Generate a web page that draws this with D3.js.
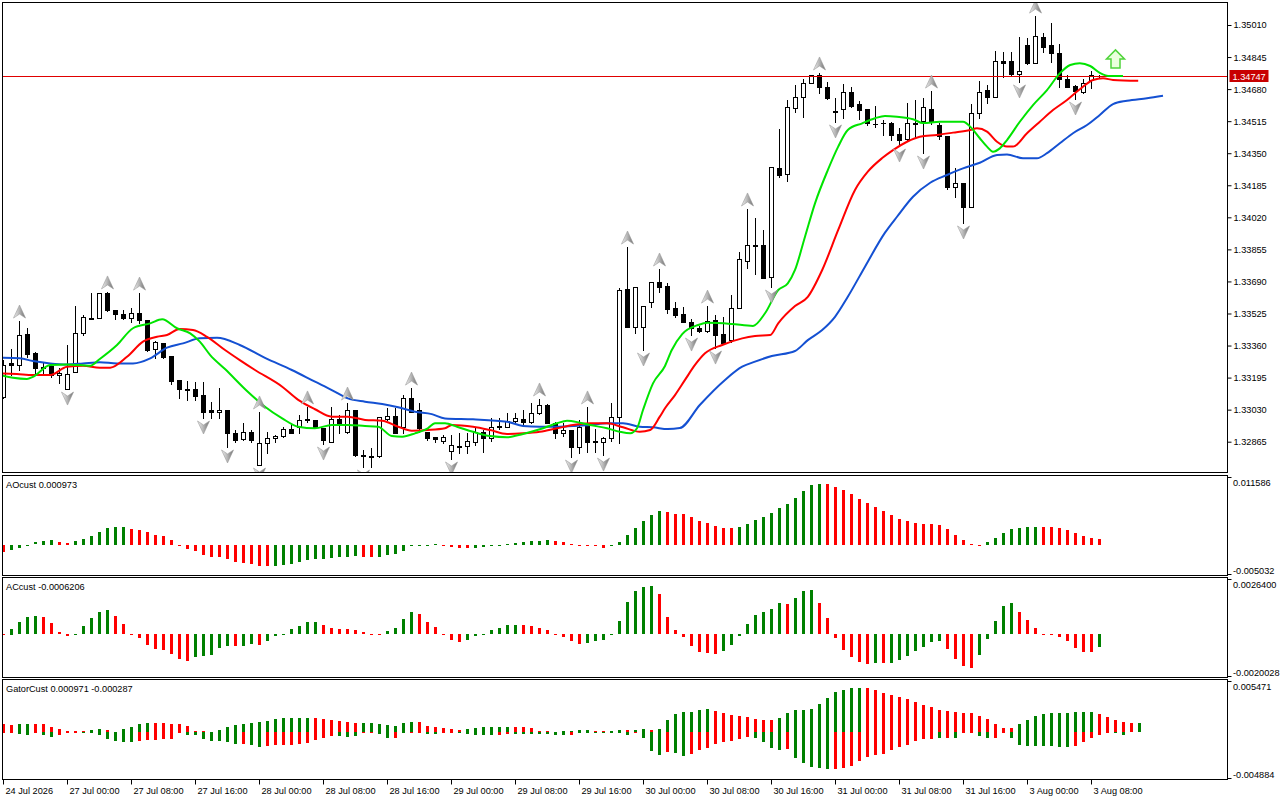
<!DOCTYPE html>
<html>
<head>
<meta charset="utf-8">
<script src="https://cdn.jsdelivr.net/npm/d3@7"></script>
<style>
  body { margin: 0; background: #fff; }
  svg { display: block; }
</style>
</head>
<body>
<div id="chart"></div>
<script>
// H1 bars, 24 Jul 16:00 .. 3 Aug 09:00
const opens = [1.33095,1.33270,1.33260,1.33419,1.33321,1.33249,1.33255,1.33208,1.33136,1.33224,
  1.33424,1.33502,1.33502,1.33630,1.33543,1.33522,1.33502,1.33527,1.33491,1.33342,
  1.33373,1.33306,1.33183,1.33136,1.33136,1.33105,1.33028,1.33018,1.33028,1.32910,
  1.32879,1.32915,1.32745,1.32858,1.32884,1.32894,1.32930,1.32941,1.32982,1.32977,
  1.32935,1.32863,1.32982,1.32915,1.33028,1.32796,1.32791,1.32791,1.32982,1.32997,
  1.32941,1.33090,1.33028,1.32915,1.32889,1.32868,1.32817,1.32843,1.32843,1.32863,
  1.32915,1.32884,1.32946,1.32941,1.32971,1.32982,1.32966,1.33013,1.33054,1.32961,
  1.32910,1.32925,1.32838,1.32946,1.32868,1.32863,1.32884,1.32992,1.33651,1.33455,
  1.33455,1.33584,1.33687,1.33666,1.33553,1.33522,1.33481,1.33450,1.33435,1.33491,
  1.33419,1.33388,1.33553,1.33795,1.33877,1.33877,1.33713,1.34274,1.34243,1.34583,
  1.34639,1.34711,1.34753,1.34691,1.34567,1.34578,1.34665,1.34603,1.34578,1.34500,
  1.34505,1.34505,1.34449,1.34423,1.34500,1.34516,1.34578,1.34495,1.34439,1.34176,
  1.34197,1.34073,1.34557,1.34675,1.34639,1.34825,1.34825,1.34758,1.34907,1.34814,
  1.34948,1.34907,1.34866,1.34732,1.34696,1.34665,1.34727,1.34750];
const highs = [1.33285,1.33342,1.33486,1.33450,1.33327,1.33270,1.33260,1.33244,1.33363,1.33563,
  1.33517,1.33630,1.33630,1.33636,1.33543,1.33543,1.33553,1.33630,1.33491,1.33383,
  1.33373,1.33306,1.33183,1.33177,1.33172,1.33172,1.33069,1.33141,1.33028,1.32925,
  1.32961,1.32925,1.33018,1.32915,1.32899,1.32941,1.32961,1.33002,1.33044,1.32977,
  1.32935,1.33044,1.33002,1.33064,1.33028,1.32822,1.32832,1.32992,1.33038,1.33038,
  1.33105,1.33141,1.33064,1.32915,1.32889,1.32899,1.32899,1.32910,1.32910,1.32941,
  1.32925,1.32987,1.32987,1.33013,1.33013,1.33028,1.33064,1.33085,1.33059,1.32966,
  1.32961,1.32925,1.32977,1.33044,1.32930,1.32889,1.33064,1.33656,1.33867,1.33661,
  1.33563,1.33687,1.33754,1.33682,1.33584,1.33558,1.33497,1.33461,1.33563,1.33517,
  1.33507,1.33620,1.33841,1.34063,1.34016,1.33955,1.34279,1.34475,1.34624,1.34701,
  1.34732,1.34753,1.34763,1.34717,1.34634,1.34706,1.34691,1.34619,1.34578,1.34593,
  1.34521,1.34511,1.34480,1.34609,1.34624,1.34634,1.34670,1.34505,1.34439,1.34274,
  1.34197,1.34603,1.34722,1.34701,1.34876,1.34871,1.34871,1.34948,1.34943,1.35056,
  1.34969,1.35020,1.34912,1.34753,1.34701,1.34732,1.34773,1.34753];
const lows = [1.33090,1.33208,1.33234,1.33301,1.33208,1.33208,1.33198,1.33167,1.33136,1.33224,
  1.33414,1.33497,1.33502,1.33538,1.33497,1.33497,1.33481,1.33476,1.33332,1.33296,
  1.33296,1.33162,1.33090,1.33080,1.33080,1.32987,1.32987,1.32987,1.32838,1.32863,
  1.32874,1.32863,1.32745,1.32807,1.32863,1.32889,1.32910,1.32910,1.32966,1.32941,
  1.32853,1.32863,1.32910,1.32910,1.32791,1.32735,1.32735,1.32786,1.32977,1.32910,
  1.32910,1.33018,1.32915,1.32874,1.32863,1.32858,1.32776,1.32807,1.32807,1.32848,
  1.32812,1.32868,1.32930,1.32941,1.32961,1.32951,1.32961,1.33007,1.32961,1.32884,
  1.32894,1.32786,1.32807,1.32812,1.32812,1.32796,1.32868,1.32858,1.33455,1.33424,
  1.33337,1.33558,1.33636,1.33527,1.33507,1.33481,1.33414,1.33430,1.33430,1.33347,
  1.33373,1.33378,1.33553,1.33759,1.33728,1.33708,1.33661,1.34228,1.34207,1.34562,
  1.34536,1.34711,1.34660,1.34629,1.34511,1.34531,1.34588,1.34526,1.34495,1.34485,
  1.34444,1.34418,1.34387,1.34418,1.34433,1.34351,1.34500,1.34423,1.34166,1.34125,
  1.33991,1.34073,1.34531,1.34609,1.34639,1.34742,1.34753,1.34717,1.34809,1.34814,
  1.34871,1.34820,1.34691,1.34691,1.34629,1.34660,1.34686,1.34742];
const closes = [1.33260,1.33260,1.33414,1.33316,1.33244,1.33244,1.33208,1.33219,1.33213,1.33424,
  1.33507,1.33497,1.33630,1.33543,1.33522,1.33502,1.33527,1.33491,1.33337,1.33378,
  1.33301,1.33177,1.33136,1.33131,1.33100,1.33018,1.33018,1.33028,1.32910,1.32874,
  1.32915,1.32874,1.32858,1.32884,1.32894,1.32930,1.32910,1.32977,1.32977,1.32941,
  1.32874,1.32982,1.32951,1.33028,1.32796,1.32791,1.32786,1.32992,1.32997,1.32910,
  1.33090,1.33018,1.32935,1.32884,1.32879,1.32889,1.32848,1.32838,1.32868,1.32915,
  1.32884,1.32941,1.32941,1.32971,1.32987,1.32966,1.33013,1.33054,1.32961,1.32910,
  1.32925,1.32838,1.32941,1.32863,1.32863,1.32884,1.32992,1.33646,1.33455,1.33661,
  1.33563,1.33687,1.33661,1.33548,1.33517,1.33481,1.33450,1.33435,1.33486,1.33414,
  1.33373,1.33553,1.33805,1.33877,1.33872,1.33708,1.34279,1.34238,1.34588,1.34639,
  1.34711,1.34753,1.34691,1.34634,1.34562,1.34665,1.34593,1.34572,1.34505,1.34498,
  1.34503,1.34444,1.34418,1.34505,1.34507,1.34588,1.34511,1.34439,1.34176,1.34197,
  1.34073,1.34557,1.34665,1.34639,1.34825,1.34814,1.34758,1.34773,1.34814,1.34953,
  1.34897,1.34866,1.34732,1.34691,1.34670,1.34711,1.34753,1.34747];

// alligator lines, [bar, price] (jaw/teeth/lips are drawn shifted forward)
const jawPts = [[-0.4,1.33297],[2.1,1.33294],[3.75,1.33280],[5.9,1.33268],[8,1.33263],[10,1.33268],[12.1,1.33274],
  [14.25,1.33268],[16.25,1.33268],[18.4,1.33294],[20.5,1.33349],[22.5,1.33371],[24.6,1.33397],[26.75,1.33400],
  [29.6,1.33363],[32.75,1.33296],[36.1,1.33234],[39,1.33174],[41.1,1.33131],[43.1,1.33088],[45.25,1.33071],
  [47.4,1.33059],[49.4,1.33042],[51.5,1.33019],[53.6,1.33007],[55.25,1.32985],[58.75,1.32980],[63,1.32968],
  [65,1.32946],[67.1,1.32942],[69.25,1.32942],[71.25,1.32946],[73.4,1.32951],[75.5,1.32960],[77.5,1.32960],
  [79.6,1.32942],[81.25,1.32939],[83.1,1.32930],[84.6,1.32935],[87.1,1.33054],[90.25,1.33183],[92.4,1.33251],
  [94,1.33277],[96.1,1.33306],[99,1.33332],[100.6,1.33388],[102.4,1.33440],[104,1.33508],[105.6,1.33611],
  [107.75,1.33766],[110.25,1.33941],[111.75,1.34023],[113.75,1.34126],[115.9,1.34198],[118,1.34238],
  [120,1.34272],[122.1,1.34301],[124.25,1.34341],[125.5,1.34344],[127.5,1.34324],[129.25,1.34324],
  [130.5,1.34350],[132.1,1.34401],[133.75,1.34453],[135.5,1.34495],[137.1,1.34547],[138.75,1.34603],
  [140.5,1.34620],[143,1.34633],[145,1.34646]];
const teethPts = [[-0.4,1.33217],[1.75,1.33213],[3.75,1.33208],[5.9,1.33208],[8,1.33251],[10,1.33256],[12.1,1.33246],
  [13.4,1.33246],[15.5,1.33302],[17.5,1.33380],[19.25,1.33405],[20.5,1.33414],[22.1,1.33445],[23.75,1.33440],
  [25.5,1.33405],[27.75,1.33337],[29.6,1.33285],[31.5,1.33234],[34.9,1.33148],[36.9,1.33080],[39,1.33032],
  [41.1,1.32994],[43.1,1.32994],[45.25,1.32977],[47.4,1.32973],[49.4,1.32942],[51.1,1.32922],[53.1,1.32925],
  [55.25,1.32934],[56.1,1.32951],[58.75,1.32942],[60.9,1.32925],[63,1.32905],[65,1.32908],[67.1,1.32916],
  [69.25,1.32934],[71.25,1.32951],[73.4,1.32960],[75.5,1.32960],[77.5,1.32939],[79.6,1.32916],[80.9,1.32925],
  [82.1,1.32994],[82.75,1.33037],[84,1.33105],[85.25,1.33183],[86.5,1.33260],[87.75,1.33320],[89.9,1.33363],
  [92.4,1.33397],[94,1.33409],[95.9,1.33414],[96.9,1.33474],[99,1.33563],[100.6,1.33611],[102.4,1.33749],
  [104.4,1.33955],[106.5,1.34161],[108.1,1.34255],[109.9,1.34325],[111.25,1.34366],[113,1.34409],
  [114.6,1.34435],[116.75,1.34444],[118.75,1.34456],[120.9,1.34470],[121.75,1.34478],[123,1.34461],
  [124.25,1.34409],[125.5,1.34384],[126.25,1.34384],[128,1.34453],[129.6,1.34512],[131.25,1.34572],
  [133,1.34624],[134.6,1.34679],[136.25,1.34727],[137.5,1.34736],[138.75,1.34727],[141.9,1.34723]];
const lipsPts = [[-0.4,1.33208],[1.25,1.33194],[3,1.33188],[3.75,1.33199],[5.9,1.33260],[8,1.33263],[10.9,1.33256],
  [12.1,1.33291],[14.25,1.33363],[16.25,1.33449],[18.4,1.33474],[19.9,1.33495],[21.75,1.33449],[23.4,1.33423],
  [24.6,1.33380],[25.9,1.33311],[27.75,1.33239],[30.6,1.33122],[32.75,1.33045],[34.9,1.32985],[36.9,1.32942],
  [39,1.32934],[41.1,1.32951],[43.1,1.32951],[45.25,1.32946],[46.9,1.32942],[48.6,1.32894],[49.9,1.32891],
  [51.5,1.32908],[53.1,1.32934],[54,1.32960],[55.25,1.32960],[56.75,1.32942],[58.75,1.32916],[60.9,1.32894],
  [63,1.32888],[65,1.32905],[67.1,1.32929],[69.25,1.32960],[70.5,1.32973],[72.1,1.32963],[73.4,1.32951],
  [75.5,1.32934],[77.1,1.32916],[78.4,1.32908],[79.25,1.32934],[80,1.33028],[81.25,1.33165],[82.75,1.33255],
  [83.6,1.33337],[84.9,1.33419],[86.9,1.33466],[88.1,1.33477],[91.1,1.33471],[93.75,1.33461],[95.25,1.33526],
  [96.9,1.33646],[98.1,1.33680],[99,1.33749],[100.25,1.33920],[101.5,1.34092],[103.1,1.34263],[104.4,1.34384],
  [105.6,1.34470],[107.4,1.34504],[109,1.34530],[110.25,1.34542],[111.75,1.34538],[113.75,1.34525],
  [115,1.34505],[117.1,1.34512],[120,1.34512],[121.1,1.34478],[122.1,1.34427],[123,1.34384],[123.75,1.34358],
  [124.6,1.34375],[125.5,1.34418],[127.1,1.34512],[128.75,1.34598],[130.5,1.34675],[132.1,1.34761],
  [133.4,1.34804],[134.6,1.34813],[135.9,1.34799],[137.1,1.34764],[138.4,1.34747],[140,1.34747]];

const fractalUp = [2, 13, 17, 32, 38, 43, 51, 67, 73, 78, 82, 88, 93, 102, 116, 129];
const fractalDown = [8, 25, 28, 32, 40, 45, 56, 71, 75, 80, 86, 89, 96, 104, 112, 115, 120, 127, 134];
const signalBar = 139, signalPrice = 1.34789;
const lastPrice = 1.34747;

const aoValues = [-0.00124,-0.00090,-0.00045,-0.00010,0.00040,0.00068,0.00085,0.00045,0.00034,0.00062,
  0.00102,0.00158,0.00220,0.00288,0.00305,0.00306,0.00271,0.00254,0.00220,0.00170,
  0.00147,0.00085,-0.00005,-0.00068,-0.00102,-0.00170,-0.00198,-0.00209,-0.00237,-0.00288,
  -0.00300,-0.00317,-0.00350,-0.00351,-0.00349,-0.00345,-0.00317,-0.00294,-0.00254,-0.00243,
  -0.00237,-0.00215,-0.00198,-0.00197,-0.00181,-0.00198,-0.00199,-0.00197,-0.00175,-0.00158,
  -0.00102,-0.00025,-0.00008,-0.00002,0.00008,0.00002,-0.00034,-0.00045,-0.00046,-0.00044,
  -0.00034,-0.00010,-0.00005,0.00017,0.00034,0.00050,0.00062,0.00063,0.00079,0.00062,
  0.00045,0.00010,0.00005,0.00002,-0.00010,-0.00045,-0.00010,0.00045,0.00170,0.00288,
  0.00407,0.00509,0.00577,0.00560,0.00526,0.00525,0.00475,0.00407,0.00373,0.00322,
  0.00288,0.00287,0.00305,0.00356,0.00424,0.00475,0.00543,0.00627,0.00695,0.00797,
  0.00916,0.01017,0.01035,0.01033,0.00983,0.00933,0.00865,0.00780,0.00712,0.00644,
  0.00577,0.00509,0.00441,0.00407,0.00373,0.00356,0.00355,0.00339,0.00271,0.00170,
  0.00085,0.00011,-0.00010,0.00051,0.00119,0.00203,0.00271,0.00288,0.00305,0.00306,
  0.00304,0.00302,0.00288,0.00254,0.00203,0.00153,0.00119,0.000973];
const acValues = [0.00003,0.00027,0.00057,0.00081,0.00085,0.00080,0.00052,0.00010,-0.00010,0.00003,
  0.00038,0.00076,0.00104,0.00114,0.00085,0.00047,0.00002,-0.00019,-0.00052,-0.00071,
  -0.00076,-0.00095,-0.00118,-0.00128,-0.00109,-0.00104,-0.00099,-0.00066,-0.00057,-0.000575,
  -0.00056,-0.00047,-0.00052,-0.00033,-0.00010,0.00001,0.00024,0.00038,0.00057,0.00058,
  0.00043,0.00028,0.00024,0.000235,0.00019,0.00010,0.00002,0.00000,0.00014,0.00028,
  0.00071,0.00104,0.00095,0.00057,0.00033,0.00002,-0.00028,-0.00038,-0.00028,-0.00010,
  0.00001,0.00019,0.00028,0.00043,0.00044,0.00043,0.00038,0.00028,0.00019,0.00002,
  -0.00014,-0.00033,-0.00047,-0.00043,-0.00033,-0.00028,-0.00003,0.00062,0.00152,0.00204,
  0.00223,0.00227,0.00189,0.00081,0.00019,-0.00014,-0.00057,-0.00085,-0.00090,-0.00095,
  -0.00081,-0.00052,-0.00009,0.00047,0.00090,0.00104,0.00118,0.00147,0.00142,0.00171,
  0.00204,0.00208,0.00147,0.00076,-0.00019,-0.00076,-0.00109,-0.00133,-0.00142,-0.00137,
  -0.00138,-0.00137,-0.00123,-0.00104,-0.00081,-0.00062,-0.00038,-0.00033,-0.00071,-0.00118,
  -0.00152,-0.00161,-0.00099,-0.00024,0.00062,0.00133,0.00147,0.00104,0.00066,0.00028,
  0.00002,0.00001,-0.00014,-0.00033,-0.00066,-0.00085,-0.00086,-0.0006206];

const gatorUp = [0.00085,0.00077,0.00085,0.00085,0.00085,0.00085,0.00060,0.00032,0.00014,0.00014,
  0.00014,0.00021,0.00032,0.00025,0.00007,0.00032,0.00060,0.00085,0.00095,0.00095,
  0.00095,0.00088,0.00085,0.00070,0.00018,0.00018,0.00002,0.00025,0.00060,0.00077,
  0.00088,0.00102,0.00113,0.00123,0.00137,0.00155,0.00155,0.00155,0.00155,0.00155,
  0.00141,0.00130,0.00123,0.00113,0.00102,0.00095,0.00095,0.00088,0.00077,0.00070,
  0.00095,0.00106,0.00106,0.00070,0.00060,0.00042,0.00032,0.00025,0.00032,0.00042,
  0.00053,0.00053,0.00053,0.00060,0.00053,0.00053,0.00042,0.00018,0.00018,0.00007,
  0.00014,0.00014,0.00021,0.00021,0.00014,0.00014,0.00018,0.00021,0.00021,0.00021,
  0.00032,0.00021,0.00032,0.00127,0.00190,0.00211,0.00211,0.00232,0.00243,0.00222,
  0.00201,0.00180,0.00169,0.00158,0.00137,0.00127,0.00127,0.00148,0.00201,0.00232,
  0.00232,0.00243,0.00296,0.00359,0.00423,0.00444,0.00465,0.00465,0.00465,0.00444,
  0.00412,0.00391,0.00370,0.00349,0.00317,0.00285,0.00264,0.00232,0.00222,0.00211,
  0.00201,0.00201,0.00169,0.00137,0.00085,0.00042,0.00042,0.00085,0.00127,0.00169,
  0.00190,0.00201,0.00201,0.00201,0.00211,0.00211,0.00211,0.00190,0.00158,0.00127,
  0.00106,0.00095,0.000971];
const gatorDown = [-0.00011,-0.00011,-0.00021,-0.00028,-0.00011,-0.00028,-0.00053,-0.00028,-0.00007,-0.00004,
  -0.00004,-0.00011,-0.00028,-0.00074,-0.00099,-0.00109,-0.00109,-0.00099,-0.00081,-0.00081,
  -0.00074,-0.00070,-0.00011,-0.00028,-0.00028,-0.00074,-0.00092,-0.00099,-0.00109,-0.00123,
  -0.00123,-0.00134,-0.00158,-0.00144,-0.00134,-0.00134,-0.00134,-0.00127,-0.00116,-0.00081,
  -0.00063,-0.00046,-0.00046,-0.00053,-0.00046,-0.00011,-0.00011,-0.00018,-0.00063,-0.00063,
  -0.00011,-0.00004,-0.00004,-0.00018,-0.00018,-0.00011,-0.00011,-0.00011,-0.00021,-0.00028,
  -0.00028,-0.00028,-0.00028,-0.00018,-0.00018,-0.00018,-0.00018,-0.00018,-0.00021,-0.00028,
  -0.00028,-0.00028,-0.00011,-0.00011,-0.00011,-0.00011,-0.00004,-0.00011,-0.00028,-0.00011,
  -0.00063,-0.00201,-0.00243,-0.00211,-0.00222,-0.00254,-0.00232,-0.00190,-0.00169,-0.00127,
  -0.00106,-0.00095,-0.00074,-0.00053,-0.00063,-0.00106,-0.00169,-0.00190,-0.00180,-0.00275,
  -0.00328,-0.00370,-0.00380,-0.00391,-0.00391,-0.00380,-0.00359,-0.00306,-0.00264,-0.00243,
  -0.00232,-0.00190,-0.00158,-0.00137,-0.00095,-0.00074,-0.00074,-0.00063,-0.00063,-0.00063,
  -0.00011,-0.00011,-0.00042,-0.00063,-0.00063,-0.00011,-0.00063,-0.00137,-0.00148,-0.00148,
  -0.00148,-0.00148,-0.00158,-0.00158,-0.00148,-0.00106,-0.00063,-0.00028,-0.00011,-0.00011,
  -0.000287];
// g = green, r = red, one letter per bar
const gatorUpColors = ["rrggrrrrrr","rggrrggggr","rrrrrrgggg","gggggggggr","rrrrrggggg","ggrrrrrrgg",
  "ggggrrrrrr","ggggrrggrg","grgggggggr","rrrrrrrggg","ggggggggrr","rrrrrrrrrr","rrrrrrrggg",
  "gggggggrrr","rrg"].join('');
const gatorDownColors = ["rrggrggrrr","gggggggrrr","rrrggggggg","rggrrrrrrr","rrgggrrggr","grrggrrggg",
  "ggrrgggggg","grgggggggr","gggrggrrrr","rrrrggggrg","ggggrrrrrr","rrrrrrrgrg","rrggrrgggg",
  "ggggrrrrrg","g"].join('');

const priceTicks = [1.35010,1.34845,1.34680,1.34515,1.34350,1.34185,1.34020,1.33855,1.33690,1.33525,1.33360,1.33195,1.33030,1.32865];
const timeTickBars = [0,8,16,24,32,40,48,56,64,72,80,88,96,104,112,120,128,136];
const timeLabels = ['24 Jul 2026','27 Jul 00:00','27 Jul 08:00','27 Jul 16:00','28 Jul 00:00','28 Jul 08:00',
  '28 Jul 16:00','29 Jul 00:00','29 Jul 08:00','29 Jul 16:00','30 Jul 00:00','30 Jul 08:00','30 Jul 16:00',
  '31 Jul 00:00','31 Jul 08:00','31 Jul 16:00','3 Aug 00:00','3 Aug 08:00'];

const GREEN = '#008000', RED = '#ff0000';
const FONT = '"Liberation Sans", Arial, sans-serif';
const FS = 9.2;
const L = 2.5, R = 1227.5;

const svg = d3.select('#chart').append('svg')
  .attr('width', 1280).attr('height', 800)
  .attr('font-family', FONT).attr('font-size', FS);

const x = d3.scaleLinear().domain([0, 1]).range([3, 11]);

const panes = [
  { key: 'main', top: 2.5, bottom: 472.5 },
  { key: 'ao', top: 475.5, bottom: 575.5, dom: [-0.005032, 0.011586], labels: ['0.011586', '-0.005032'], title: 'AOcust 0.000973' },
  { key: 'ac', top: 577.5, bottom: 677.5, dom: [-0.0020028, 0.0026400], labels: ['0.0026400', '-0.0020028'], title: 'ACcust -0.0006206' },
  { key: 'gator', top: 679.5, bottom: 779.5, dom: [-0.004884, 0.005471], labels: ['0.005471', '-0.004884'], title: 'GatorCust 0.000971 -0.000287' }
];

const defs = svg.append('defs');
panes.forEach(p => {
  defs.append('clipPath').attr('id', 'clip-' + p.key)
    .append('rect').attr('x', L + 0.5).attr('y', p.top + 0.5)
    .attr('width', R - L - 1).attr('height', p.bottom - p.top - 1);
});
const grad = defs.append('linearGradient').attr('id', 'fracGrad').attr('x1', 0).attr('x2', 1).attr('y1', 0).attr('y2', 0);
grad.append('stop').attr('offset', 0).attr('stop-color', '#f2f2f2');
grad.append('stop').attr('offset', 0.5).attr('stop-color', '#b4b4b4');
grad.append('stop').attr('offset', 1).attr('stop-color', '#6e6e6e');

// ---------- main price window
const y = d3.scaleLinear().domain([1.32865, 1.35010]).range([441.7, 25]);
const gMain = svg.append('g').attr('class', 'mainPane').attr('clip-path', 'url(#clip-main)');

const bars = opens.map((o, i) => ({ i, o, h: highs[i], l: lows[i], c: closes[i] }));

gMain.selectAll('.wick').data(bars).join('line')
  .attr('class', 'wick')
  .attr('x1', d => x(d.i) + 0.5).attr('x2', d => x(d.i) + 0.5)
  .attr('y1', d => Math.round(y(d.h))).attr('y2', d => Math.round(y(d.l)) + 1)
  .attr('stroke', '#000').attr('shape-rendering', 'crispEdges');

gMain.selectAll('.body').data(bars).join('rect')
  .attr('class', 'body')
  .each(function (d) {
    const top = Math.round(y(Math.max(d.o, d.c)));
    const bot = Math.round(y(Math.min(d.o, d.c)));
    const el = d3.select(this);
    if (d.c > d.o) {
      el.attr('x', x(d.i) - 1.5).attr('y', top + 0.5).attr('width', 4).attr('height', Math.max(1, bot - top))
        .attr('fill', '#fff').attr('stroke', '#000');
    } else {
      el.attr('x', x(d.i) - 2).attr('y', top).attr('width', 5).attr('height', Math.max(1, bot - top + 1))
        .attr('fill', '#000');
    }
  })
  .attr('shape-rendering', 'crispEdges');

// last price line
const yLast = Math.round(y(lastPrice)) + 0.5;
gMain.append('line').attr('x1', L).attr('x2', R).attr('y1', yLast).attr('y2', yLast)
  .attr('stroke', '#e00000').attr('stroke-width', 1);

// alligator
const line = d3.line().x(d => x(d[0])).y(d => y(d[1])).curve(d3.curveMonotoneX);
[[jawPts, '#1450d2'], [teethPts, '#ff0000'], [lipsPts, '#00e400']].forEach(([pts, col]) => {
  gMain.append('path').attr('d', line(pts)).attr('fill', 'none')
    .attr('stroke', col).attr('stroke-width', 2).attr('stroke-linejoin', 'round');
});

// fractals
gMain.selectAll('.fracUp').data(fractalUp).join('path')
  .attr('class', 'fracUp')
  .attr('d', i => {
    const cx = x(i) + 0.5, b = y(highs[i]) - 3;
    return `M${cx},${b - 13}L${cx + 6},${b}L${cx},${b - 4}L${cx - 6},${b}Z`;
  })
  .attr('fill', 'url(#fracGrad)').attr('stroke', '#9a9a9a').attr('stroke-width', 0.6);
gMain.selectAll('.fracDown').data(fractalDown).join('path')
  .attr('class', 'fracDown')
  .attr('d', i => {
    const cx = x(i) + 0.5, b = y(lows[i]) + 3;
    return `M${cx},${b + 13}L${cx + 6},${b}L${cx},${b + 4}L${cx - 6},${b}Z`;
  })
  .attr('fill', 'url(#fracGrad)').attr('stroke', '#9a9a9a').attr('stroke-width', 0.6);

// buy signal arrow
{
  const cx = x(signalBar) + 0.5, b = y(signalPrice);
  gMain.append('path')
    .attr('d', `M${cx - 4.5},${b}L${cx + 4.5},${b}L${cx + 4.5},${b - 9}L${cx + 9},${b - 9}L${cx},${b - 18}L${cx - 9},${b - 9}L${cx - 4.5},${b - 9}Z`)
    .attr('fill', '#eaffdc').attr('stroke', '#4fd43a').attr('stroke-width', 1.5).attr('stroke-linejoin', 'miter');
}

// price axis
svg.append('g').attr('class', 'priceAxis')
  .attr('transform', `translate(${R},0)`)
  .call(d3.axisRight(y).tickValues(priceTicks).tickFormat(d3.format('.5f')).tickSize(4).tickSizeOuter(0))
  .call(g => g.select('.domain').remove())
  .call(g => g.attr('font-family', FONT).attr('font-size', FS))
  .call(g => g.selectAll('text').attr('x', 6).attr('fill', '#000'));

// last price tag
svg.append('rect').attr('x', R + 2).attr('y', yLast - 6.5).attr('width', 39).attr('height', 12).attr('fill', '#c80000');
svg.append('text').attr('x', R + 5).attr('y', yLast).attr('dy', '0.35em')
  .attr('fill', '#fff').text(d3.format('.5f')(lastPrice));

// ---------- indicator windows
function paneScale(p) {
  return d3.scaleLinear().domain(p.dom).range([p.bottom - 1, p.top + 1]);
}

function histogram(g, ys, vals, colorOf) {
  const z = ys(0);
  g.selectAll(null).data(vals.map((v, i) => ({ i, v }))).join('rect')
    .attr('x', d => x(d.i) - 1)
    .attr('width', 3)
    .attr('y', d => Math.round(Math.min(ys(d.v), z)))
    .attr('height', d => Math.max(1, Math.round(Math.abs(ys(d.v) - z))))
    .attr('fill', colorOf)
    .attr('shape-rendering', 'crispEdges');
}

const risingColor = vals => (d) => (d.i > 0 && d.v > vals[d.i - 1]) ? GREEN : RED;

panes.slice(1).forEach(p => {
  const ys = paneScale(p);
  const g = svg.append('g').attr('class', p.key + 'Pane').attr('clip-path', `url(#clip-${p.key})`);
  if (p.key === 'ao') histogram(g, ys, aoValues, risingColor(aoValues));
  if (p.key === 'ac') histogram(g, ys, acValues, risingColor(acValues));
  if (p.key === 'gator') {
    histogram(g, ys, gatorUp, d => gatorUpColors[d.i] === 'g' ? GREEN : RED);
    histogram(g, ys, gatorDown, d => gatorDownColors[d.i] === 'g' ? GREEN : RED);
  }
  svg.append('text').attr('class', 'paneTitle')
    .attr('x', L + 3.5).attr('y', p.top + 9.5).attr('dy', '0.35em')
    .text(p.title);

  // scale extremes on the right: tick on the pane edge, text inside
  [[p.dom[1], p.labels[0], 0, 5.5], [p.dom[0], p.labels[1], -1, -4]].forEach(([v, txt, tickOff, txtOff]) => {
    const yt = Math.round(ys(v) + tickOff) + 0.5;
    svg.append('line').attr('x1', R).attr('x2', R + 4).attr('y1', yt).attr('y2', yt).attr('stroke', '#000');
    svg.append('text').attr('x', R + 5.5).attr('y', yt + txtOff).attr('dy', '0.35em').text(txt);
  });
});

// frames
panes.forEach(p => {
  svg.append('rect').attr('class', 'frame')
    .attr('x', L).attr('y', p.top).attr('width', R - L).attr('height', p.bottom - p.top)
    .attr('fill', 'none').attr('stroke', '#000').attr('shape-rendering', 'crispEdges');
});

// time axis
svg.append('g').attr('class', 'timeAxis')
  .attr('transform', 'translate(0,779.5)')
  .call(d3.axisBottom(x).tickValues(timeTickBars).tickFormat((d, k) => timeLabels[k]).tickSize(5).tickSizeOuter(0))
  .call(g => g.select('.domain').remove())
  .call(g => g.attr('font-family', FONT).attr('font-size', FS))
  .call(g => g.selectAll('text').attr('text-anchor', 'start').attr('x', 2).attr('y', 8).attr('fill', '#000'));
</script>
</body>
</html>
